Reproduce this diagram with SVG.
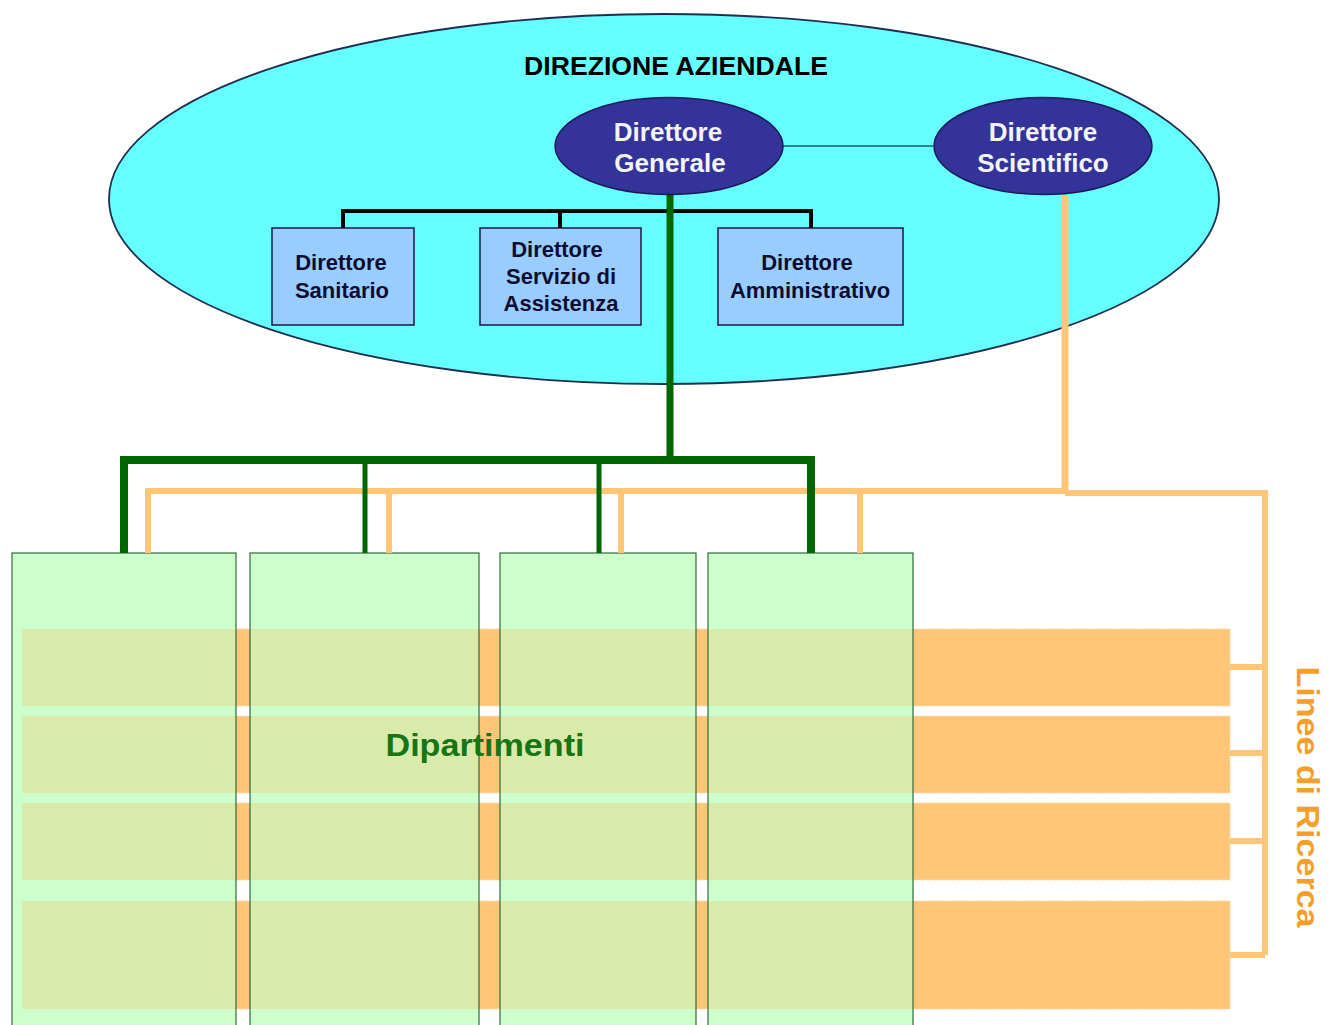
<svg xmlns="http://www.w3.org/2000/svg" width="1330" height="1025" viewBox="0 0 1330 1025">
<style>
.box{fill:#99ccff;stroke:#1a1a40;stroke-width:1.5}
.boxt{font-family:"Liberation Sans",Arial,sans-serif;font-weight:bold;font-size:22px;fill:#0d0d30;text-anchor:middle}
.oval{fill:#333399;stroke:#1a1a5a;stroke-width:1.5}
.ovalt{font-family:"Liberation Sans",Arial,sans-serif;font-weight:bold;font-size:26px;fill:#f4f4f4;text-anchor:middle}
.col{fill:#ccffcc}
.colb{fill:none;stroke:#2f6a3a;stroke-width:1.2}
.band{fill:#ffc677;stroke:#ffdcaa;stroke-width:1;stroke-dasharray:4 2}
.ov{fill:#d9eaaa}
.g{stroke:#006600;fill:none}
.o{stroke:#ffc677;fill:none}
</style>
<defs>
<clipPath id="cols">
<rect x="12" y="553" width="224" height="480"/>
<rect x="250" y="553" width="229" height="480"/>
<rect x="500" y="553" width="196" height="480"/>
<rect x="708" y="553" width="205" height="480"/>
</clipPath>
</defs>
<rect width="1330" height="1025" fill="#ffffff"/>

<g id="direzione-aziendale">
<ellipse cx="664" cy="199" rx="555" ry="185" fill="#66ffff" stroke="#1f2f4f" stroke-width="1.8"/>
<text x="676" y="75" font-family="Liberation Sans,Arial,sans-serif" font-weight="bold" font-size="25" fill="#000" text-anchor="middle" textLength="304" lengthAdjust="spacingAndGlyphs">DIREZIONE AZIENDALE</text>
</g>

<g id="bands">
<rect class="band" x="22" y="629" width="1208" height="77"/>
<rect class="band" x="22" y="716" width="1208" height="77"/>
<rect class="band" x="22" y="803" width="1208" height="77"/>
<rect class="band" x="22" y="901" width="1208" height="108"/>
</g>

<g id="dipartimenti">
<rect class="col" x="12" y="553" width="224" height="480"/>
<rect class="col" x="250" y="553" width="229" height="480"/>
<rect class="col" x="500" y="553" width="196" height="480"/>
<rect class="col" x="708" y="553" width="205" height="480"/>
<g clip-path="url(#cols)">
<rect class="ov" x="22" y="629" width="1208" height="77"/>
<rect class="ov" x="22" y="716" width="1208" height="77"/>
<rect class="ov" x="22" y="803" width="1208" height="77"/>
<rect class="ov" x="22" y="901" width="1208" height="108"/>
</g>
<rect class="colb" x="12" y="553" width="224" height="480"/>
<rect class="colb" x="250" y="553" width="229" height="480"/>
<rect class="colb" x="500" y="553" width="196" height="480"/>
<rect class="colb" x="708" y="553" width="205" height="480"/>
<text x="485" y="756" font-family="Liberation Sans,Arial,sans-serif" font-weight="bold" font-size="31" fill="#167516" text-anchor="middle" textLength="199" lengthAdjust="spacingAndGlyphs">Dipartimenti</text>
</g>

<g id="connectors">
<line x1="783" y1="146" x2="933" y2="146" stroke="#2a8a8a" stroke-width="2"/>
<path d="M669,195 V211 M343,211 H811 M343,209 V228 M560,209 V228 M811,209 V228" stroke="#000" stroke-width="4" fill="none"/>
<path class="o" d="M1065,195 V493" stroke-width="7"/>
<path class="o" d="M148,553 V491 H1065 M389,491 V553 M621,491 V553 M860,491 V553" stroke-width="6"/>
<path class="o" d="M1065,493 H1265 V955 M1230,667 H1265 M1230,753 H1265 M1230,841 H1265 M1230,955 H1265" stroke-width="6"/>
<path class="g" d="M670,195 V460" stroke-width="7"/>
<path class="g" d="M124,553 V460 H811 V553" stroke-width="8"/>
<path class="g" d="M365,460 V553 M599,460 V553" stroke-width="5"/>
</g>

<g id="direttore-generale">
<ellipse class="oval" cx="669" cy="146" rx="114" ry="48.5"/>
<text class="ovalt" x="668" y="141">Direttore</text>
<text class="ovalt" x="670" y="172">Generale</text>
</g>

<g id="direttore-scientifico">
<ellipse class="oval" cx="1043" cy="146" rx="109" ry="48.5"/>
<text class="ovalt" x="1043" y="141">Direttore</text>
<text class="ovalt" x="1043" y="172">Scientifico</text>
</g>

<g id="direttore-sanitario">
<rect class="box" x="272" y="228" width="142" height="97"/>
<text class="boxt" x="341" y="270">Direttore</text>
<text class="boxt" x="342" y="298">Sanitario</text>
</g>

<g id="direttore-servizio-assistenza">
<rect class="box" x="480" y="228" width="161" height="97"/>
<text class="boxt" x="557" y="257">Direttore</text>
<text class="boxt" x="561" y="284">Servizio di</text>
<text class="boxt" x="561" y="311">Assistenza</text>
</g>

<g id="direttore-amministrativo">
<rect class="box" x="718" y="228" width="185" height="97"/>
<text class="boxt" x="807" y="270">Direttore</text>
<text class="boxt" x="810" y="298">Amministrativo</text>
</g>

<g id="linee-di-ricerca">
<text transform="translate(1297,797) rotate(90)" x="0" y="0" font-family="Liberation Sans,Arial,sans-serif" font-weight="bold" font-size="32" fill="#f59f2a" text-anchor="middle" textLength="261" lengthAdjust="spacingAndGlyphs">Linee di Ricerca</text>
</g>
</svg>
